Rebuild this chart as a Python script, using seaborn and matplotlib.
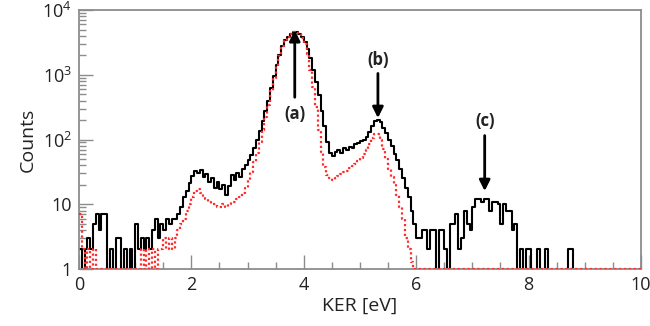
import numpy as np
import seaborn as sns
import matplotlib.pyplot as plt
from matplotlib.ticker import FixedLocator, MultipleLocator, FuncFormatter

# KER spectrum, 0.05 eV bins from 0 to 10 eV
bin_edges = np.linspace(0, 10, 201)

counts_all = [
    2, 1, 2, 3, 2, 5, 7, 4, 7, 7,
    1, 2, 1, 3, 3, 1, 2, 1, 2, 1,
    5, 2, 3, 2, 3, 2, 4, 6, 3, 5,
    4, 6, 5, 6, 6, 7, 9, 13, 16, 21,
    27, 33, 30, 34, 26, 29, 22, 25, 18, 22,
    17, 20, 14, 19, 28, 24, 30, 26, 35, 40,
    48, 58, 75, 100, 135, 190, 280, 400, 620, 950,
    1400, 2000, 2800, 3400, 3900, 4300, 4600, 4550, 4300, 3800,
    3200, 2500, 1800, 1200, 780, 480, 280, 160, 90, 62,
    55, 65, 70, 62, 75, 70, 78, 75, 85, 88,
    95, 100, 110, 130, 160, 190, 200, 185, 150, 125,
    100, 80, 60, 48, 35, 25, 18, 13, 8, 5,
    3, 3, 4, 4, 2, 4, 4, 1, 4, 4,
    2, 1, 5, 5, 7, 2, 3, 8, 5, 4,
    9, 12, 12, 11, 12, 12, 8, 11, 11, 10,
    5, 10, 8, 8, 4, 5, 0, 2, 0, 2,
    2, 0, 0, 2, 0, 0, 2, 0, 0, 0,
    0, 0, 0, 0, 2, 2, 0, 0, 0, 0,
    0, 0, 0, 0, 0, 0, 0, 0, 0, 0,
    0, 0, 0, 0, 0, 0, 0, 0, 0, 0,
]

counts_sel = [
    7, 2, 1, 2, 1, 2, 1, 1, 1, 1,
    1, 1, 1, 1, 1, 1, 1, 1, 1, 1,
    1, 1, 2, 1, 2, 1, 2, 1, 2, 2,
    3, 2, 3, 2, 3, 4, 5, 6, 8, 10,
    13, 16, 17, 15, 13, 12, 11, 10, 10, 9,
    9, 10, 9, 10, 11, 11, 12, 13, 15, 18,
    24, 32, 45, 62, 90, 140, 220, 340, 560, 900,
    1350, 1950, 2750, 3350, 3850, 4250, 4550, 4500, 4200, 3700,
    3000, 2100, 1200, 650, 320, 140, 65, 38, 28, 25,
    24, 25, 27, 29, 31, 33, 36, 39, 42, 46,
    52, 60, 70, 85, 105, 120, 120, 100, 72, 50,
    35, 26, 20, 14, 9, 6, 3, 2, 1.3, 1,
] + [1] * 80

labels = ["(a)", "(b)", "(c)"]
label_x = [3.84, 5.32, 7.22]
label_y = [250, 1700, 190]
arrow_from = [450, 1050, 115]
arrow_to = [4900, 215, 16]

sns.set_style("ticks")
plt.rcParams["font.family"] = ["Open Sans", "DejaVu Sans"]
plt.rcParams["mathtext.fontset"] = "custom"
plt.rcParams["mathtext.rm"] = "Open Sans"
plt.rcParams["mathtext.it"] = "Open Sans"

fig = plt.figure(figsize=(6.5, 3.26), dpi=100)
ax = fig.add_axes([0.1215, 0.175, 0.8645, 0.794])

y_all = np.append(counts_all, counts_all[-1])
y_sel = np.append(counts_sel, counts_sel[-1])
sns.lineplot(x=bin_edges, y=y_all, drawstyle="steps-post", color="black",
             lw=1.5, estimator=None, ax=ax, zorder=2)
sns.lineplot(x=bin_edges, y=y_sel, drawstyle="steps-post", color="#ff2a2a",
             lw=1.6, ls=(0, (1, 1.2)), estimator=None, ax=ax, zorder=3)

ax.set_yscale("log", nonpositive="clip")
ax.set_xlim(0, 10)
ax.set_ylim(1, 1e4)

def fmt(v, pos):
    if v == 1:
        return "1"
    if v == 10:
        return "10"
    return r"$10^{%d}$" % int(round(np.log10(v)))

ax.yaxis.set_major_locator(FixedLocator([1, 10, 100, 1000, 10000]))
ax.yaxis.set_major_formatter(FuncFormatter(fmt))
ax.xaxis.set_major_locator(MultipleLocator(2))
ax.xaxis.set_minor_locator(MultipleLocator(0.5))

gray = "#8c8c8c"
for s in ax.spines.values():
    s.set_color(gray)
    s.set_linewidth(1.3)
ax.tick_params(which="both", direction="in", color=gray, width=1.0,
               labelsize=13, labelcolor="#222222", pad=5)
ax.tick_params(which="major", length=10)
ax.tick_params(which="minor", length=5)

ax.set_xlabel("KER [eV]", fontsize=14, color="#222222", labelpad=2)
ax.set_ylabel("Counts", fontsize=14, color="#222222", labelpad=4)

for lab, lx, ly, a0, a1 in zip(labels, label_x, label_y, arrow_from, arrow_to):
    ax.text(lx, ly, lab, ha="center", va="center", fontsize=12,
            fontweight="bold", color="#222222")
    ax.annotate("", xy=(lx, a1), xytext=(lx, a0),
                arrowprops=dict(arrowstyle="-|>", color="black", lw=2,
                                mutation_scale=16, shrinkA=0, shrinkB=0))

fig.savefig("out.png", dpi=100)
